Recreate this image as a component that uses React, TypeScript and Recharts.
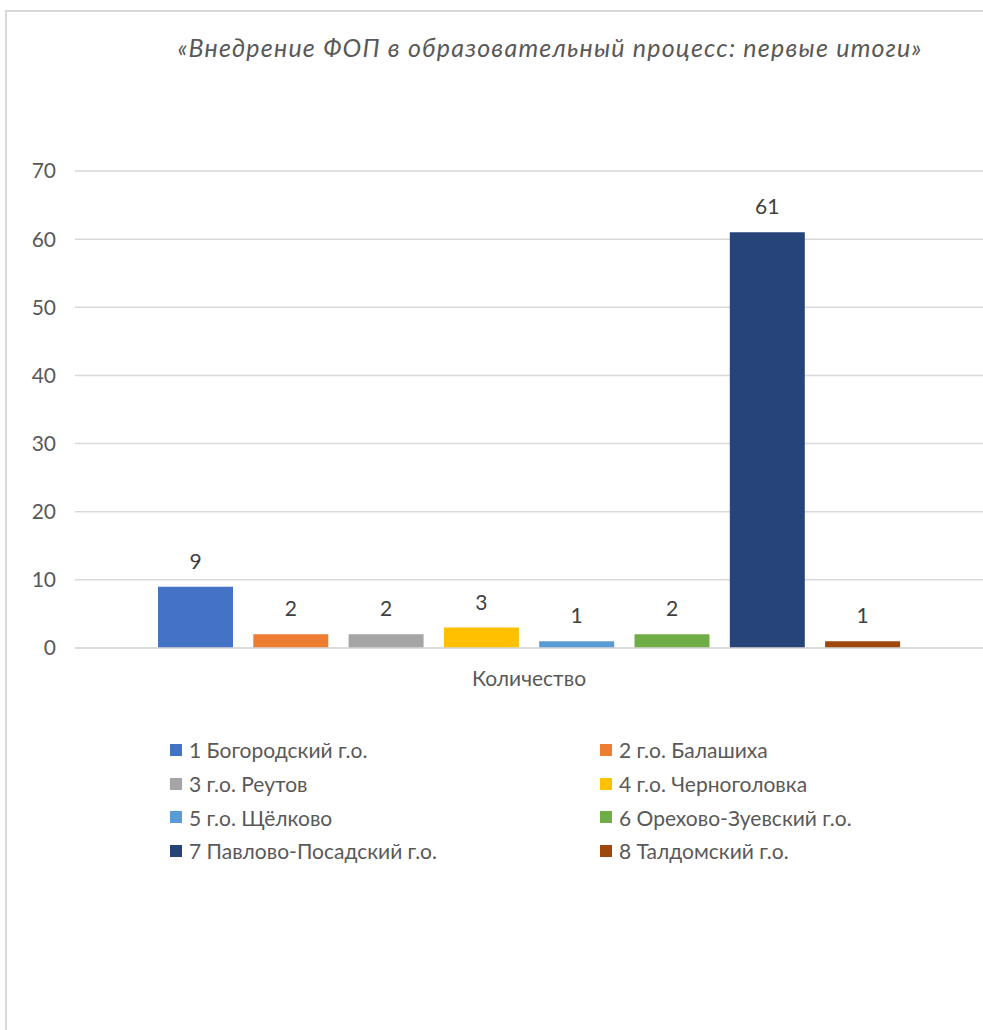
import React from 'react';
import { BarChart, Bar, XAxis, YAxis, CartesianGrid, LabelList, Legend } from 'recharts';

// Source values
const category = 'Количество';
const seriesNames = [
  '1 Богородский г.о.',
  '2 г.о. Балашиха',
  '3 г.о. Реутов',
  '4 г.о. Черноголовка',
  '5 г.о. Щёлково',
  '6 Орехово-Зуевский г.о.',
  '7 Павлово-Посадский г.о.',
  '8 Талдомский г.о.',
];
const seriesValues = [9, 2, 2, 3, 1, 2, 61, 1];
const seriesColors = ['#4472C4', '#ED7D31', '#A5A5A5', '#FFC000', '#5B9BD5', '#70AD47', '#264478', '#9E480E'];
const yTicks = [0, 10, 20, 30, 40, 50, 60, 70];

const title = '«Внедрение ФОП в образовательный процесс: первые итоги»';

const FONT = 'Lato, "Noto Sans", sans-serif';

const row: Record<string, string | number> = { name: category };
seriesNames.forEach((n, i) => {
  row[`s${i}`] = seriesValues[i];
});
const chartData = [row];

const renderLegend = (props: any) => {
  const { payload = [] } = props;
  return (
    <div
      style={{
        display: 'grid',
        gridTemplateColumns: '430px 380px',
        fontFamily: FONT,
        fontSize: 21,
        color: '#595959',
      }}
    >
      {payload.map((entry: any) => (
        <div key={entry.value} style={{ display: 'flex', alignItems: 'center', height: 33.7, whiteSpace: 'nowrap' }}>
          <span
            style={{
              display: 'inline-block',
              width: 12,
              height: 12,
              background: entry.color,
              marginRight: 7,
            }}
          />
          <span>{entry.value}</span>
        </div>
      ))}
    </div>
  );
};

const App: React.FC = () => {
  return (
    <div
      style={{
        position: 'absolute',
        left: 0,
        top: 0,
        width: 983,
        height: 1030,
        overflow: 'hidden',
        background: '#fff',
      }}
    >
      <div
        style={{
          position: 'absolute',
          left: 5,
          top: 10,
          width: 1200,
          height: 1200,
          borderLeft: '2px solid #d9d9d9',
          borderTop: '2px solid #d9d9d9',
        }}
      />
      <div
        style={{
          position: 'absolute',
          top: 32,
          left: 100,
          width: 900,
          textAlign: 'center',
          fontFamily: FONT,
          fontStyle: 'italic',
          fontSize: 25,
          letterSpacing: 1.2,
          color: '#595959',
          whiteSpace: 'nowrap',
        }}
      >
        {title}
      </div>
      <div style={{ position: 'absolute', left: 0, top: 0 }}>
        <BarChart
          width={983}
          height={900}
          data={chartData}
          margin={{ top: 171, right: 0, bottom: 212, left: 0 }}
          barSize={75}
          barGap={20.3}
        >
          <CartesianGrid vertical={false} stroke="#d9d9d9" strokeWidth={1.5} />
          <XAxis
            dataKey="name"
            axisLine={{ stroke: '#d9d9d9', strokeWidth: 1.5 }}
            tickLine={false}
            tickMargin={17}
            height={40}
            tick={{ fill: '#595959', fontSize: 21, fontFamily: FONT }}
          />
          <YAxis
            domain={[0, 70]}
            ticks={yTicks}
            width={75}
            axisLine={false}
            tickLine={false}
            tickMargin={13}
            tick={{ fill: '#595959', fontSize: 21, fontFamily: FONT }}
          />
          <Legend
            layout="horizontal"
            verticalAlign="middle"
            align="center"
            wrapperStyle={{ top: 733, left: 170, width: 810 }}
            content={renderLegend}
          />
          {seriesNames.map((n, i) => (
            <Bar key={n} dataKey={`s${i}`} name={n} fill={seriesColors[i]} isAnimationActive={false}>
              <LabelList
                dataKey={`s${i}`}
                position="top"
                offset={18}
                fill="#404040"
                fontSize={21}
                fontFamily={FONT}
              />
            </Bar>
          ))}
        </BarChart>
      </div>
    </div>
  );
};

export default App;
